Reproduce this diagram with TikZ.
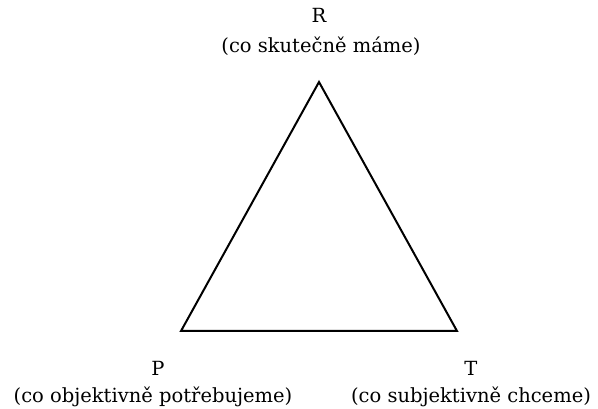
\documentclass[tikz,border=0pt]{standalone}
\usepackage{fontspec}
\setmainfont{DejaVu Serif}
\begin{document}
\begin{tikzpicture}[x=1pt,y=-1pt,
  lbl/.style={inner sep=0pt,font=\fontsize{19.5}{22}\selectfont,align=center},
  edge/.style={line width=2pt,line join=miter}]
\useasboundingbox (0,0) rectangle (598,409);
\coordinate (top) at (319,82);
\coordinate (bl) at (181,331);
\coordinate (br) at (457,331);
\draw[edge] (top) -- (bl) -- (br) -- cycle;
\node[lbl] (R) at (319,15) {R};
\node[lbl] (Rd) at (321,46) {(co skutečně máme)};
\node[lbl] (P) at (158,368) {P};
\node[lbl] (Pd) at (153,397) {(co objektivně potřebujeme)};
\node[lbl] (T) at (471,368) {T};
\node[lbl] (Td) at (471,397) {(co subjektivně chceme)};
\end{tikzpicture}
\end{document}
